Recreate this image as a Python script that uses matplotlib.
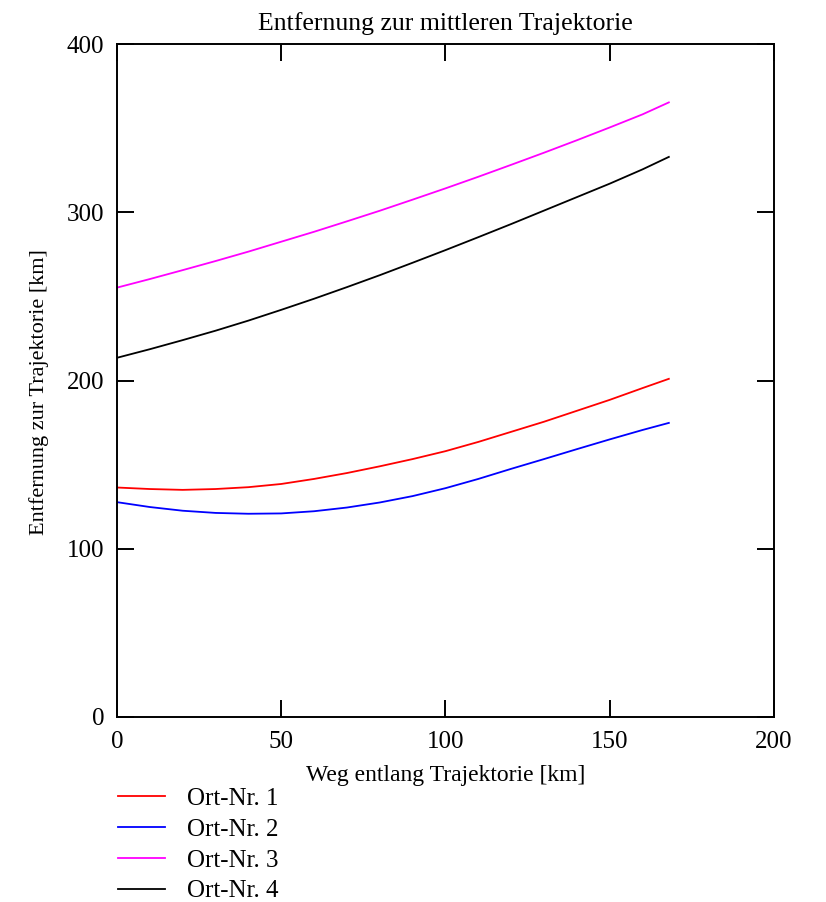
import matplotlib
matplotlib.use("Agg")
import matplotlib.pyplot as plt

plt.rcParams['font.family'] = ['Liberation Serif', 'DejaVu Serif']

# Weg entlang Trajektorie [km]
weg = [0, 10, 20, 30, 40, 50, 60, 70, 80, 90, 100, 110, 120, 130, 140, 150, 160, 168]

# Entfernung zur Trajektorie [km] per Ort
ort1 = [136.4, 135.5, 135.0, 135.5, 136.6, 138.5, 141.5, 145.0, 149.0, 153.3,
        158.0, 163.5, 169.5, 175.5, 182.0, 188.5, 195.5, 201.0]
ort2 = [127.7, 124.8, 122.6, 121.3, 120.8, 121.0, 122.3, 124.5, 127.5, 131.3,
        136.0, 141.5, 147.5, 153.3, 159.2, 165.0, 170.6, 174.8]
ort3 = [255.2, 260.3, 265.6, 271.0, 276.6, 282.5, 288.4, 294.6, 300.9, 307.5,
        314.2, 321.1, 328.2, 335.4, 342.8, 350.4, 358.2, 365.3]
ort4 = [213.5, 218.6, 224.0, 229.6, 235.6, 242.0, 248.6, 255.5, 262.6, 270.0,
        277.5, 285.2, 293.0, 301.0, 309.0, 317.0, 325.5, 332.9]

labels = ["Ort-Nr. 1", "Ort-Nr. 2", "Ort-Nr. 3", "Ort-Nr. 4"]
colors = ["#ff0000", "#0000ff", "#ff00ff", "#000000"]

fig = plt.figure(figsize=(8.26, 9.02), dpi=100)
ax = fig.add_axes([0.1416, 0.2051, 0.7954, 0.7461])

for ys, lab, c in zip([ort1, ort2, ort3, ort4], labels, colors):
    ax.plot(weg, ys, color=c, lw=1.3, label=lab)

ax.set_xlim(0, 200)
ax.set_ylim(0, 400)
ax.set_xticks([0, 50, 100, 150, 200])
ax.set_yticks([0, 100, 200, 300, 400])

for s in ax.spines.values():
    s.set_linewidth(1.4)
ax.tick_params(direction='in', length=12, width=1.4, top=True, right=True,
               labelsize=18)
ax.tick_params(axis='x', pad=10)
ax.tick_params(axis='y', pad=9)

ax.set_title("Entfernung zur mittleren Trajektorie", fontsize=18.5, pad=10)
ax.set_xlabel("Weg entlang Trajektorie [km]", fontsize=17, labelpad=9)
ax.set_ylabel("Entfernung zur Trajektorie [km]", fontsize=16)
ax.yaxis.set_label_coords(-0.103, 0.483)

ax.legend(loc='upper left', bbox_to_anchor=(-0.014, -0.09), frameon=False,
          fontsize=18, handlelength=1.9, handletextpad=0.85, labelspacing=0.33,
          borderaxespad=0)

fig.savefig("out.png", dpi=100)
